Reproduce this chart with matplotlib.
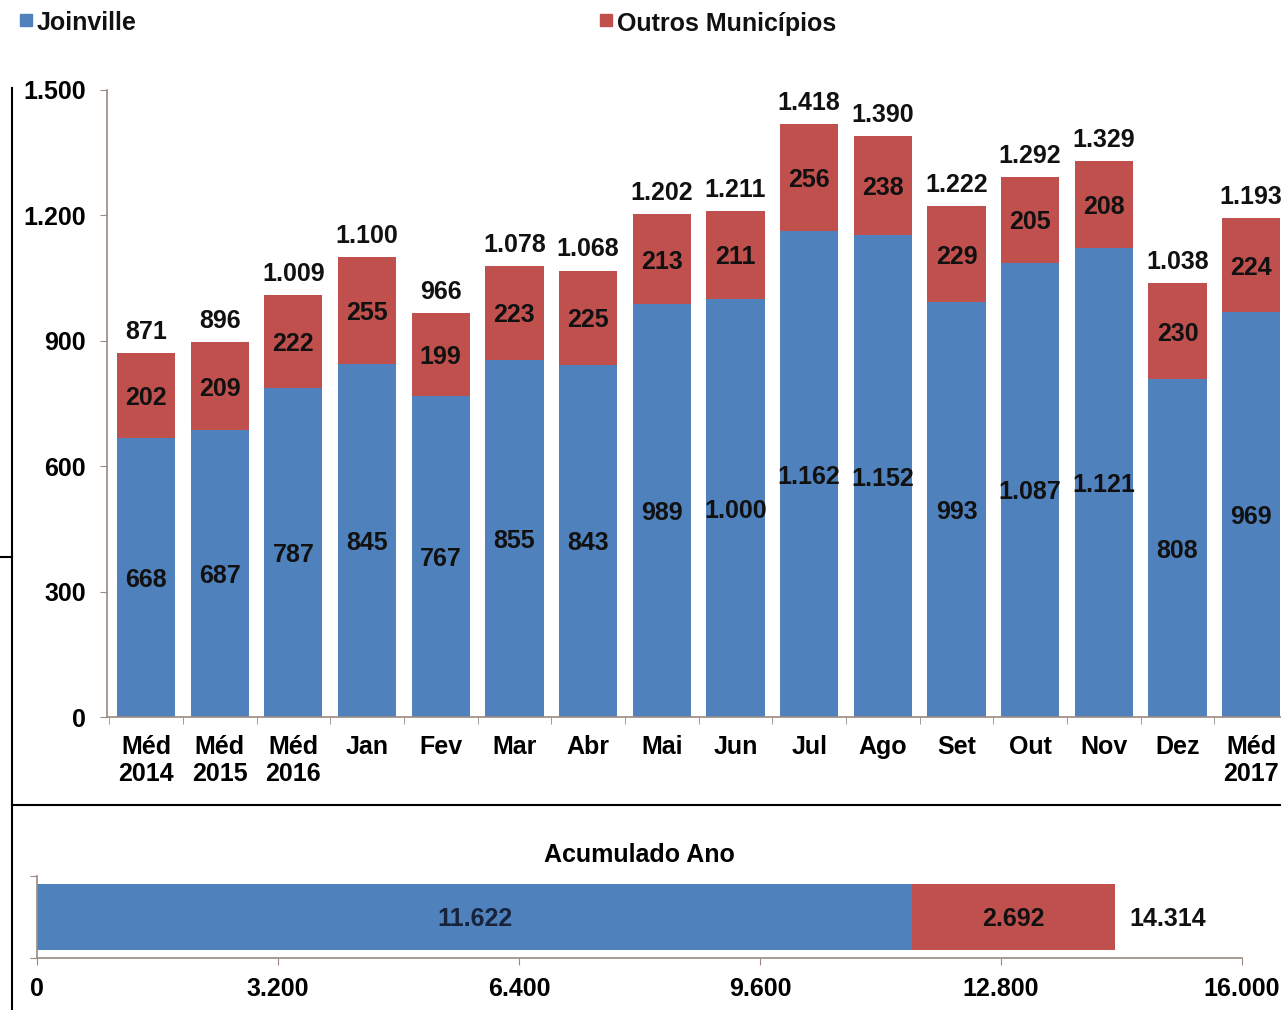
import matplotlib
matplotlib.use("Agg")
import matplotlib.pyplot as plt
from matplotlib.lines import Line2D
from matplotlib.patches import Rectangle

plt.rcParams['font.family'] = ['Liberation Sans', 'DejaVu Sans']
plt.rcParams['font.weight'] = 'bold'

# dados mensais
categorias = ['Méd\n2014', 'Méd\n2015', 'Méd\n2016', 'Jan', 'Fev', 'Mar', 'Abr', 'Mai',
              'Jun', 'Jul', 'Ago', 'Set', 'Out', 'Nov', 'Dez', 'Méd\n2017']
joinville = [668, 687, 787, 845, 767, 855, 843, 989, 1000, 1162, 1152, 993, 1087, 1121, 808, 969]
outros = [202, 209, 222, 255, 199, 223, 225, 213, 211, 256, 238, 229, 205, 208, 230, 224]
totais = [871, 896, 1009, 1100, 966, 1078, 1068, 1202, 1211, 1418, 1390, 1222, 1292, 1329, 1038, 1193]

# acumulado do ano
acum_joinville = 11622
acum_outros = 2692
acum_total = 14314

AZUL = '#4f81bd'
VERMELHO = '#c0504d'
EIXO = '#9a8a82'
TXT = '#111111'
FS = 18


def fmt(v):
    return f"{v:,}".replace(",", ".")


fig = plt.figure(figsize=(12.81, 10.10), dpi=100)

# gráfico principal
ax = fig.add_axes([107 / 1281, 0.290, 1181 / 1281, 0.621])
x = list(range(len(categorias)))
ax.bar(x, joinville, width=0.79, color=AZUL)
ax.bar(x, outros, width=0.79, bottom=joinville, color=VERMELHO)

for i in x:
    ax.text(i, joinville[i] / 2, fmt(joinville[i]), ha='center', va='center_baseline',
            fontsize=FS, color=TXT)
    ax.text(i, joinville[i] + outros[i] / 2, fmt(outros[i]), ha='center',
            va='center_baseline', fontsize=FS, color=TXT)
    ax.annotate(fmt(totais[i]), (i, totais[i]), xytext=(0, 17), textcoords='offset points',
                ha='center', va='center_baseline', fontsize=FS, color=TXT)

ax.set_xlim(-0.53, 15.5)
ax.set_ylim(0, 1500)
ax.set_yticks(range(0, 1501, 300))
ax.set_yticklabels([fmt(v) for v in range(0, 1501, 300)], fontsize=FS)
ax.set_xticks(x)
ax.set_xticklabels(categorias, fontsize=FS, linespacing=1.15)
ax.set_xticks([i + 0.5 for i in x[:-1]] + [-0.5], minor=True)
ax.tick_params(axis='x', which='major', length=0, pad=13)
ax.tick_params(axis='x', which='minor', length=5, color=EIXO, direction='out')
ax.tick_params(axis='y', length=5, color=EIXO, pad=10)
for s in ['top', 'right']:
    ax.spines[s].set_visible(False)
for s in ['left', 'bottom']:
    ax.spines[s].set_color(EIXO)
    ax.spines[s].set_linewidth(1.2)

# barra do acumulado
ax2 = fig.add_axes([37 / 1281, 1 - 958 / 1010, 1205 / 1281, 82 / 1010])
ax2.barh(0, acum_joinville, height=0.8, color=AZUL)
ax2.barh(0, acum_outros, height=0.8, left=acum_joinville, color=VERMELHO)
ax2.text(acum_joinville / 2, 0, fmt(acum_joinville), ha='center', va='center_baseline',
         fontsize=FS, color='#17233a')
ax2.text(acum_joinville + acum_outros / 2, 0, fmt(acum_outros), ha='center',
         va='center_baseline', fontsize=FS, color=TXT)
ax2.annotate(fmt(acum_total), (acum_total, 0), xytext=(10, 0), textcoords='offset points',
             ha='left', va='center_baseline', fontsize=FS, color=TXT)
ax2.set_xlim(0, 16000)
ax2.set_ylim(-0.5, 0.5)
ax2.set_xticks(range(0, 16001, 3200))
ax2.set_xticklabels([fmt(v) for v in range(0, 16001, 3200)], fontsize=FS)
ax2.set_yticks([-0.5, 0.5])
ax2.set_yticklabels([])
ax2.tick_params(axis='x', length=5, color=EIXO, pad=9)
ax2.tick_params(axis='y', length=5, color=EIXO)
ax2.set_title('Acumulado Ano', fontsize=FS, fontweight='bold', pad=10)
for s in ['top', 'right']:
    ax2.spines[s].set_visible(False)
for s in ['left', 'bottom']:
    ax2.spines[s].set_color(EIXO)
    ax2.spines[s].set_linewidth(1.2)

# legenda
for (px, nome, cor) in [(20, 'Joinville', AZUL), (600, 'Outros Municípios', VERMELHO)]:
    fig.add_artist(Rectangle((px / 1281, 1 - 26 / 1010), 12 / 1281, 12 / 1010,
                             transform=fig.transFigure, color=cor))
    fig.text((px + 17) / 1281, 1 - 21 / 1010, nome, fontsize=FS, color=TXT,
             ha='left', va='center_baseline')

# moldura
lx = 12 / 1281
fig.add_artist(Line2D([lx, lx], [1 - 88 / 1010, 0], transform=fig.transFigure,
                      color='black', lw=1.5))
fig.add_artist(Line2D([lx, 1], [1 - 805 / 1010] * 2, transform=fig.transFigure,
                      color='black', lw=1.5))
fig.add_artist(Line2D([0, lx], [1 - 557 / 1010] * 2, transform=fig.transFigure,
                      color='black', lw=1.5))

fig.savefig('out.png', dpi=100)
